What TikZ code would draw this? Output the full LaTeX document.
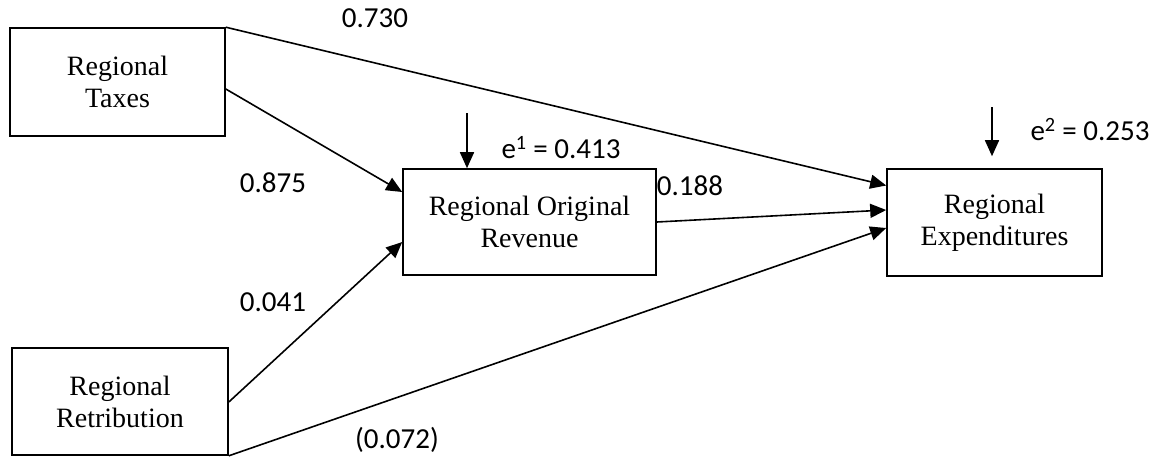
\documentclass[tikz,border=0pt]{standalone}
\usepackage{fontspec}
\setmainfont{Liberation Serif}
\newfontfamily\numfont{Carlito}
\usetikzlibrary{arrows.meta}
\begin{document}
\begin{tikzpicture}[x=1pt,y=-1pt,
  varbox/.style={draw,line width=1.6pt,inner sep=0pt,align=center,font=\fontsize{28}{32}\selectfont},
  path/.style={line width=1.6pt,-{Triangle[length=16pt,width=14pt]}},
  coef/.style={font=\numfont\fontsize{29}{33}\selectfont,inner sep=0pt}]
\useasboundingbox (0,0) rectangle (1156,464);
\node[varbox,minimum width=215pt,minimum height=108pt] (tax) at (117.5,82) {Regional\\Taxes};
\node[varbox,minimum width=216pt,minimum height=107pt] (ret) at (120,401.5) {Regional\\Retribution};
\node[varbox,minimum width=253pt,minimum height=106pt] (rev) at (529.5,222) {Regional Original\\Revenue};
\node[varbox,minimum width=215pt,minimum height=107pt] (exp) at (994.5,222.5) {Regional\\Expenditures};
\coordinate (e1) at (467,113);
\coordinate (e2) at (992,107);
\draw[path] (tax.north east) -- ([yshift=37pt]exp.west);
\draw[path] ([yshift=-7pt]tax.east) -- ([yshift=30pt]rev.west);
\draw[path] ([yshift=-0.5pt]ret.east) -- ([yshift=-20pt]rev.west);
\draw[path] (ret.south east) -- ([yshift=-5.5pt]exp.west);
\draw[path] (rev.east) -- ([yshift=12.5pt]exp.west);
\draw[path] (e1) -- (e1 |- rev.north);
\draw[path] (e2) -- ([yshift=12pt]e2 |- exp.north);
\node[coef] (c1) at (375,18) {0.730};
\node[coef] (c2) at (273,183) {0.875};
\node[coef] (c3) at (273,302) {0.041};
\node[coef] (c4) at (397,440) {(0.072)};
\node[coef] (c5) at (690,186) {0.188};
\node[coef] (c6) at (561,148) {e\textsuperscript{1} = 0.413};
\node[coef] (c7) at (1090,130) {e\textsuperscript{2} = 0.253};
\end{tikzpicture}
\end{document}
